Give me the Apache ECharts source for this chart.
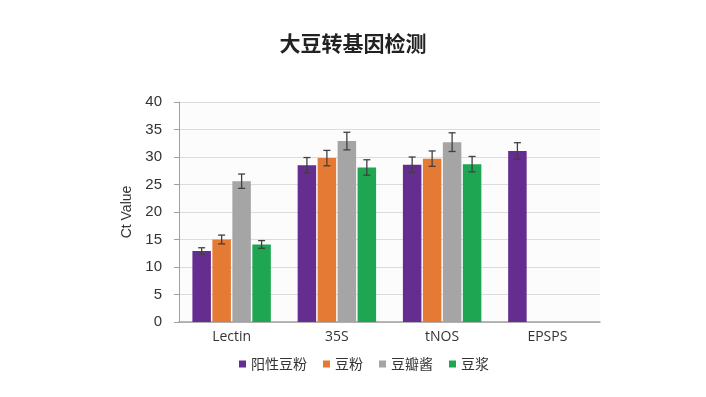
<!DOCTYPE html>
<html>
<head>
<meta charset="utf-8">
<script src="https://cdn.jsdelivr.net/npm/echarts@6/dist/echarts.min.js"></script>
<style>
  html, body { margin: 0; padding: 0; background: #fff; }
  #chart { width: 706px; height: 397px; }
</style>
</head>
<body>
<div id="chart"></div>
<script>
// --- Data ---
const categories = ['Lectin', '35S', 'tNOS', 'EPSPS'];
const seriesNames = ['阳性豆粉', '豆粉', '豆瓣酱', '豆浆'];
const seriesColors = ['#652d90', '#e47a33', '#a5a5a5', '#1ea653'];

const positiveValues = [12.9, 28.5, 28.6, 31.1];
const flourValues = [15.0, 29.8, 29.7, null];
const sauceValues = [25.6, 32.9, 32.7, null];
const milkValues = [14.1, 28.1, 28.7, null];

const positiveErr = [0.6, 1.4, 1.4, 1.5];
const flourErr = [0.8, 1.4, 1.4, null];
const sauceErr = [1.3, 1.6, 1.7, null];
const milkErr = [0.7, 1.4, 1.4, null];

const yTicks = [0, 5, 10, 15, 20, 25, 30, 35, 40];

const values = [positiveValues, flourValues, sauceValues, milkValues];
const errors = [positiveErr, flourErr, sauceErr, milkErr];

const BAR_W = 18.5;
const BAR_GAP = 0.08; // fraction of bar width

const chart = echarts.init(document.getElementById('chart'));

// bars
const barSeries = values.map((vals, i) => ({
  name: seriesNames[i],
  type: 'bar',
  data: vals,
  barWidth: BAR_W,
  barGap: (BAR_GAP * 100) + '%',
  itemStyle: { color: seriesColors[i] },
  z: 2
}));

// error bars drawn with custom series, offset to match each bar
const errSeries = values.map((vals, i) => ({
  type: 'custom',
  z: 5,
  silent: true,
  renderItem: (params, api) => {
    const v = api.value(1);
    const e = api.value(2);
    if (v == null || isNaN(v)) return;
    const offset = (i - 1.5) * BAR_W * (1 + BAR_GAP);
    const hi = api.coord([api.value(0), v + e]);
    const lo = api.coord([api.value(0), v - e]);
    const x = hi[0] + offset;
    const cap = 3.5;
    const style = { stroke: '#404040', lineWidth: 1.3 };
    return {
      type: 'group',
      children: [
        { type: 'line', shape: { x1: x, y1: hi[1], x2: x, y2: lo[1] }, style },
        { type: 'line', shape: { x1: x - cap, y1: hi[1], x2: x + cap, y2: hi[1] }, style },
        { type: 'line', shape: { x1: x - cap, y1: lo[1], x2: x + cap, y2: lo[1] }, style }
      ]
    };
  },
  encode: { x: 0, y: 1 },
  data: vals.map((v, j) => [j, v, errors[i][j]]).filter(d => d[1] != null)
}));

const option = {
  backgroundColor: '#fff',
  title: {
    text: '大豆转基因检测',
    left: 'center',
    top: 28,
    textStyle: {
      fontFamily: 'Noto Sans CJK SC',
      fontSize: 21,
      fontWeight: 'bold',
      color: '#222'
    }
  },
  legend: {
    data: seriesNames,
    bottom: 21,
    left: 234,
    icon: 'rect',
    itemWidth: 7,
    itemHeight: 7,
    itemGap: 16,
    textStyle: { fontFamily: 'Noto Sans CJK SC', fontSize: 14, color: '#333' }
  },
  grid: {
    left: 179,
    right: 106,
    top: 102,
    bottom: 75,
    show: true,
    backgroundColor: '#fcfcfc',
    borderWidth: 0
  },
  xAxis: {
    type: 'category',
    data: categories,
    axisTick: { show: false },
    axisLine: { lineStyle: { color: '#a0a0a0', width: 1.5 } },
    axisLabel: {
      color: '#333',
      fontFamily: 'Open Sans',
      fontSize: 14,
      margin: 8
    }
  },
  yAxis: {
    type: 'value',
    min: 0,
    max: 40,
    interval: 5,
    name: 'Ct Value',
    nameLocation: 'middle',
    nameGap: 40,
    nameTextStyle: { fontFamily: 'Liberation Sans', fontSize: 14, color: '#333' },
    axisLine: { show: true, lineStyle: { color: '#a0a0a0' } },
    axisTick: { show: true, length: 5, lineStyle: { color: '#a0a0a0' } },
    axisLabel: {
      color: '#333',
      fontFamily: 'Liberation Sans',
      fontSize: 15,
      margin: 17,
      formatter: v => (yTicks.includes(v) ? String(v) : '')
    },
    splitLine: { lineStyle: { color: '#dcdcdc' } }
  },
  series: [...barSeries, ...errSeries]
};

chart.setOption(option);
</script>
</body>
</html>
